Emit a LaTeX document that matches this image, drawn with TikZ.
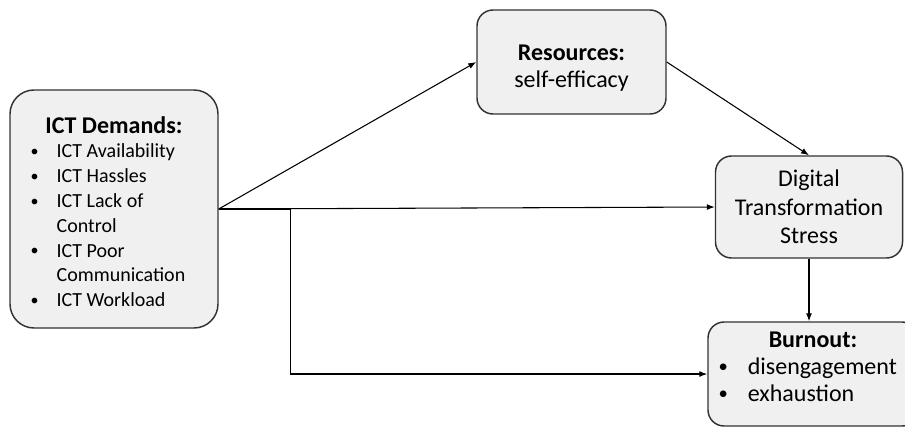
\documentclass[tikz,border=0pt]{standalone}
\usepackage{fontspec}
\setmainfont{Carlito}
\usetikzlibrary{arrows.meta}
\newcommand{\dotmark}[1]{\raisebox{0.06em}{\fontsize{#1}{#1}\selectfont\textbullet}}

\begin{document}
\begin{tikzpicture}[x=0.75pt,y=-0.75pt,>={Latex[length=6pt,width=4.5pt]},
		box/.style={draw=black!80,line width=1.1pt,fill=black!6,rounded corners=12pt,inner sep=0pt},
		link/.style={->,line width=0.8pt}]
		\useasboundingbox (0,0) rectangle (905,426);
		\clip (0,0) rectangle (905,426);
		% ICT demands
		\node [box,rounded corners=18pt,minimum width=156pt,minimum height=178.5pt,
			font=\fontsize{15}{18.6}\selectfont] (dem) at (114,209) {%
			\begin{tabular}{@{}c@{\hspace{13.5pt}}l@{\hspace{9pt}}}
				\multicolumn{2}{c}{\rule{0pt}{22pt}\fontsize{18}{18}\selectfont\bfseries ICT Demands:}\\
				\dotmark{12} & ICT Availability\\
				\dotmark{12} & ICT Hassles\\
				\dotmark{12} & ICT Lack of\\
				 & Control\\
				\dotmark{12} & ICT Poor\\
				 & Communication\\
				\dotmark{12} & ICT Workload
			\end{tabular}};
		% Resources
		\node [box,minimum width=141.75pt,minimum height=78pt,align=center,
			font=\fontsize{18}{19.7}\selectfont] (res) at (571.5,62) {\rule{0pt}{21pt}\bfseries Resources:\\self-efficacy};
		% Stress
		\node [box,minimum width=140.25pt,minimum height=76.5pt,align=center,
			font=\fontsize{18}{21.4}\selectfont] (dts) at (809,207) {Digital\\Transformation\\Stress};
		% Burnout
		\node [box,minimum width=157.5pt,minimum height=78pt,
			font=\fontsize{18}{20}\selectfont] (burn) at (813,374) {%
			\begin{tabular}{@{}c@{\hspace{15pt}}l@{\hspace{8pt}}}
				\multicolumn{2}{c}{\bfseries Burnout:}\\
				\dotmark{14} & disengagement\\
				\dotmark{14} & exhaustion\rule[-13.5pt]{0pt}{0pt}
			\end{tabular}};
		% Connectors
		\draw [link] (dem.east) -- (res.west);
		\draw [link] (dem.east) -- (dts.west);
		\draw [link] (dem.east) -- ++(72,0) |- (burn.west);
		\draw [link] (res.east) -- (dts.north);
		\draw [link] (dts.south) -- (dts.south |- burn.north);
	\end{tikzpicture}
\end{document}
